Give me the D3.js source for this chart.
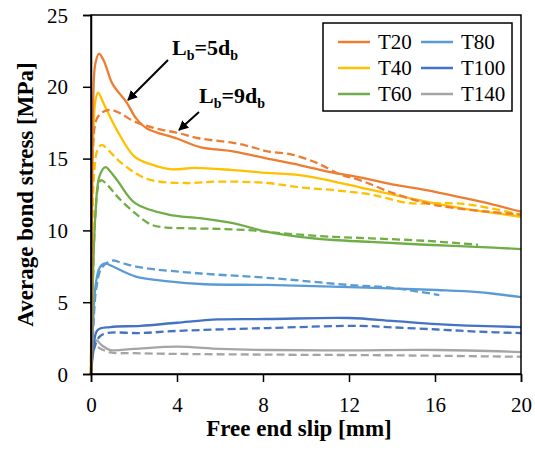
<!DOCTYPE html>
<html>
<head>
<meta charset="utf-8">
<script src="https://cdn.jsdelivr.net/npm/d3@7"></script>
<style>
  body { margin: 0; background: #fff; }
</style>
</head>
<body>
<div id="chart"></div>
<script>
var w = 535, h = 454,
    m = {left: 91, right: 14, top: 15, bottom: 80},
    font = "'Liberation Serif'";

var xTicks = [0, 4, 8, 12, 16, 20];
var yTicks = [0, 5, 10, 15, 20, 25];

// [slip, stress]; solid = Lb=5db, dashed = Lb=9db
var t20Solid = [[0,0],[0.04,12],[0.1,19],[0.2,21.6],[0.37,22.3],[0.6,21.8],[1,20.2],[1.66,18.9],[2.1,17.8],[2.6,17.1],[4,16.4],[5.07,15.8],[6.6,15.5],[8.2,15.0],[9.7,14.55],[11.3,14.0],[12.5,13.7],[14,13.2],[15.6,12.8],[17.2,12.3],[18.7,11.8],[20,11.3]];
var t20Dash = [[0,0],[0.04,10],[0.1,16],[0.25,17.7],[0.5,18.2],[0.85,18.4],[1.3,18.2],[2,17.6],[3,17.1],[4,16.8],[5.07,16.4],[6.6,16.1],[7.5,15.8],[8.2,15.5],[9.3,15.3],[10.5,14.7],[11.6,13.9],[12.5,13.5],[14.05,12.6],[15.6,11.9],[16.7,11.6],[18.5,11.3],[20,11.1]];
var t40Solid = [[0,0],[0.04,10],[0.1,16],[0.2,19],[0.33,19.6],[0.6,18.8],[1.2,17.0],[2.05,15.1],[2.8,14.6],[3.8,14.25],[4.8,14.35],[6.6,14.2],[8.2,14.0],[9.7,13.85],[11.3,13.4],[12.5,13.0],[14.8,12.25],[17.2,11.55],[20,10.95]];
var t40Dash = [[0,0],[0.05,9],[0.15,14],[0.3,15.6],[0.5,15.95],[0.8,15.6],[1.26,14.9],[2.05,14.0],[2.8,13.5],[4.4,13.3],[6,13.4],[8.2,13.3],[9.7,13.0],[11.3,12.8],[13,12.5],[14.8,11.9],[16.5,11.9],[17.6,11.8],[20,11.1]];
var t60Solid = [[0,0],[0.08,6],[0.2,11],[0.4,13.8],[0.68,14.4],[0.9,14.1],[1.26,13.4],[2.05,11.9],[3.6,11.1],[5.07,10.85],[6.6,10.5],[8.2,9.9],[9.7,9.55],[11.3,9.33],[13,9.2],[15.6,9.0],[18.7,8.8],[20,8.7]];
var t60Dash = [[0,0],[0.08,6],[0.2,11],[0.35,13.2],[0.47,13.5],[0.8,13.1],[1.26,12.3],[2.05,11.2],[2.8,10.4],[3.5,10.2],[4.4,10.15],[6,10.1],[7.5,10.0],[8.9,9.8],[11.3,9.55],[13,9.45],[15.6,9.27],[18,9.0]];
var t80Solid = [[0,0],[0.08,3],[0.2,6],[0.4,7.4],[0.65,7.7],[1,7.5],[2.05,6.8],[3.6,6.45],[5.3,6.25],[8.2,6.2],[12,6.05],[16.1,5.85],[18,5.7],[20,5.35]];
var t80Dash = [[0,0],[0.1,3],[0.25,6],[0.5,7.4],[1,7.9],[1.5,7.7],[2.4,7.4],[5.1,7.0],[8.2,6.7],[12,6.2],[14,6.0],[16.2,5.5]];
var t100Solid = [[0,0],[0.1,1.5],[0.3,3.05],[0.9,3.27],[2.3,3.35],[4,3.57],[5.9,3.8],[8.2,3.83],[12,3.9],[14,3.7],[16.1,3.48],[18,3.35],[20,3.27]];
var t100Dash = [[0,0],[0.1,1.5],[0.4,2.6],[0.75,2.85],[2.3,2.85],[4,3.0],[8.2,3.2],[12.5,3.35],[14,3.25],[16.1,3.1],[18,2.95],[20,2.85]];
var t140Solid = [[0,0],[0.1,1.8],[0.25,2.35],[0.5,2.0],[0.9,1.67],[2,1.75],[4,1.9],[6,1.75],[8.2,1.67],[12,1.65],[16.1,1.67],[20,1.53]];
var t140Dash = [[0,0],[0.05,1.5],[0.12,2.1],[0.4,1.8],[0.9,1.5],[2,1.45],[4,1.4],[8.2,1.35],[14,1.3],[20,1.2]];

var names = ["T20", "T40", "T60", "T80", "T100", "T140"];
var colors = ["#ED7D31", "#FFC000", "#70AD47", "#5B9BD5", "#4472C4", "#A5A5A5"];
var solid = [t20Solid, t40Solid, t60Solid, t80Solid, t100Solid, t140Solid];
var dashed = [t20Dash, t40Dash, t60Dash, t80Dash, t100Dash, t140Dash];

var x = d3.scaleLinear().domain([0, 20]).range([m.left, w - m.right]);
var y = d3.scaleLinear().domain([0, 25]).range([h - m.bottom, m.top]);

var svg = d3.select("#chart").append("svg")
    .attr("width", w)
    .attr("height", h);

var line = d3.line()
    .x(function(d) { return x(d[0]); })
    .y(function(d) { return y(d[1]); })
    .curve(d3.curveCatmullRom.alpha(0.5));

// draw back to front so T20 ends up on top
for (var i = names.length - 1; i >= 0; i--) {
  svg.append("path")
      .attr("d", line(dashed[i]))
      .attr("fill", "none")
      .attr("stroke", colors[i])
      .attr("stroke-width", 2.3)
      .attr("stroke-dasharray", "8,4");
  svg.append("path")
      .attr("d", line(solid[i]))
      .attr("fill", "none")
      .attr("stroke", colors[i])
      .attr("stroke-width", 2.3);
}

// frame
svg.append("rect")
    .attr("x", x(0))
    .attr("y", y(25))
    .attr("width", x(20) - x(0))
    .attr("height", y(0) - y(25))
    .attr("fill", "none")
    .attr("stroke", "#000")
    .attr("stroke-width", 1.5);

var xAxis = svg.append("g")
    .attr("transform", "translate(0," + y(0) + ")")
    .call(d3.axisBottom(x).tickValues(xTicks).tickSize(8).tickPadding(15));
var yAxis = svg.append("g")
    .attr("transform", "translate(" + x(0) + ",0)")
    .call(d3.axisLeft(y).tickValues(yTicks).tickSize(8).tickPadding(15));

[xAxis, yAxis].forEach(function(a) {
  a.attr("font-family", null).attr("font-size", null);
  a.select(".domain").attr("stroke", "#000").attr("stroke-width", 1.5);
  a.selectAll(".tick line").attr("stroke", "#000").attr("stroke-width", 1.5);
  a.selectAll(".tick text")
      .attr("fill", "#000")
      .style("font-family", font)
      .style("font-size", "21px");
});
yAxis.selectAll(".tick text").attr("dy", "0.34em");

// axis titles
svg.append("text")
    .attr("x", (x(0) + x(20)) / 2 - 7)
    .attr("y", 436)
    .attr("text-anchor", "middle")
    .style("font-family", font)
    .style("font-weight", "bold")
    .style("font-size", "23px")
    .text("Free end slip [mm]");

svg.append("text")
    .attr("transform", "translate(33," + (y(0) + y(25)) / 2 + ")rotate(-90)")
    .attr("text-anchor", "middle")
    .style("font-family", font)
    .style("font-weight", "bold")
    .style("font-size", "23px")
    .text("Average bond stress [MPa]");

// legend
var lg = svg.append("g");
lg.append("rect")
    .attr("x", 323).attr("y", 23)
    .attr("width", 189).attr("height", 88)
    .attr("fill", "#fff")
    .attr("stroke", "#000")
    .attr("stroke-width", 1.5);

var item = lg.selectAll("g.item")
    .data(names)
  .enter().append("g")
    .attr("class", "item")
    .attr("transform", function(d, i) {
      var col = i < 3 ? 0 : 1, row = i % 3;
      return "translate(" + (338 + col * 83) + "," + (42 + row * 26) + ")";
    });
item.append("line")
    .attr("x1", 0).attr("x2", 32)
    .attr("stroke", function(d, i) { return colors[i]; })
    .attr("stroke-width", 2.5);
item.append("text")
    .attr("x", 40)
    .attr("dy", "0.34em")
    .style("font-family", font)
    .style("font-size", "21px")
    .text(function(d) { return d; });

// annotations
svg.append("defs").append("marker")
    .attr("id", "arr")
    .attr("viewBox", "0 0 10 10")
    .attr("refX", 9).attr("refY", 5)
    .attr("markerWidth", 5).attr("markerHeight", 5)
    .attr("orient", "auto")
  .append("path")
    .attr("d", "M0,0L10,5L0,10Z")
    .attr("fill", "#000");

function label(tx, ty, num) {
  var t = svg.append("text")
      .attr("x", tx).attr("y", ty)
      .style("font-family", font)
      .style("font-weight", "bold")
      .style("font-size", "22px");
  t.append("tspan").text("L");
  t.append("tspan").style("font-size", "14px").attr("dy", 5).text("b");
  t.append("tspan").attr("dy", -5).text("=" + num + "d");
  t.append("tspan").style("font-size", "14px").attr("dy", 5).text("b");
}
label(172, 55, 5);
label(199, 103, 9);

svg.append("line")
    .attr("x1", 168).attr("y1", 60)
    .attr("x2", 128).attr("y2", 100)
    .attr("stroke", "#000").attr("stroke-width", 2)
    .attr("marker-end", "url(#arr)");
svg.append("line")
    .attr("x1", 199).attr("y1", 112)
    .attr("x2", 179).attr("y2", 130)
    .attr("stroke", "#000").attr("stroke-width", 2)
    .attr("marker-end", "url(#arr)");
</script>
</body>
</html>
